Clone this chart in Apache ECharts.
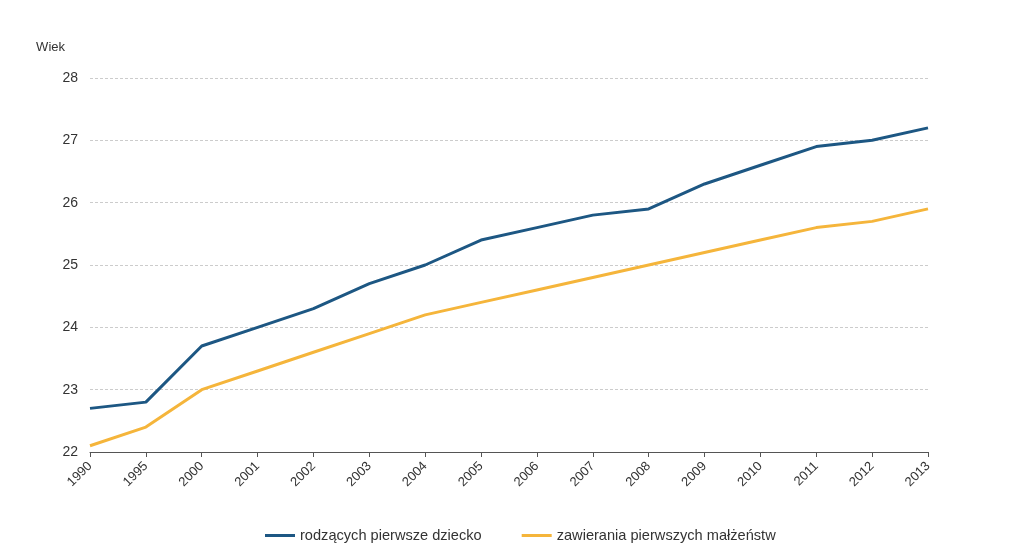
<!DOCTYPE html>
<html>
<head>
<meta charset="utf-8">
<script src="https://cdn.jsdelivr.net/npm/echarts@6/dist/echarts.min.js"></script>
<style>
  html, body { margin: 0; padding: 0; background: #ffffff; }
  #chart { width: 1016px; height: 552px; }
</style>
</head>
<body>
<div id="chart"></div>
<script>
// Mediana wieku: kobiety rodzące pierwsze dziecko oraz zawierające pierwsze małżeństwo
const years = ['1990','1995','2000','2001','2002','2003','2004','2005','2006','2007','2008','2009','2010','2011','2012','2013'];
const firstChild = [22.7, 22.8, 23.7, 24.0, 24.3, 24.7, 25.0, 25.4, 25.6, 25.8, 25.9, 26.3, 26.6, 26.9, 27.0, 27.2];
const firstMarriage = [22.1, 22.4, 23.0, 23.3, 23.6, 23.9, 24.2, 24.4, 24.6, 24.8, 25.0, 25.2, 25.4, 25.6, 25.7, 25.9];
const seriesNames = ['rodzących pierwsze dziecko', 'zawierania pierwszych małżeństw'];
const seriesColors = ['#1d5783', '#f5b53b'];

const chart = echarts.init(document.getElementById('chart'), null, { renderer: 'canvas' });
const font = 'Liberation Sans, Arial, sans-serif';

chart.setOption({
  animation: false,
  backgroundColor: '#ffffff',
  textStyle: { fontFamily: font },
  grid: { left: 90, right: 88, top: 78, bottom: 100, containLabel: false },
  legend: {
    bottom: 4,
    left: 260,
    itemWidth: 30,
    itemHeight: 3,
    itemGap: 40,
    icon: 'rect',
    textStyle: { fontFamily: font, fontSize: 14.6, color: '#333333' },
    data: seriesNames
  },
  xAxis: {
    type: 'category',
    data: years,
    boundaryGap: false,
    axisLine: { lineStyle: { color: '#555555', width: 1 } },
    axisTick: { alignWithLabel: true, length: 5, lineStyle: { color: '#555555' } },
    axisLabel: { rotate: 45, color: '#333333', fontSize: 13, margin: 12, fontFamily: font }
  },
  yAxis: {
    type: 'value',
    min: 22,
    max: 28,
    interval: 1,
    name: 'Wiek',
    nameLocation: 'end',
    nameGap: 24,
    nameTextStyle: { color: '#333333', fontSize: 13, align: 'right', padding: [0, 25, 0, 0], fontFamily: font },
    axisLine: { show: false },
    axisTick: { show: false },
    axisLabel: { color: '#333333', fontSize: 14, margin: 12, fontFamily: font },
    splitLine: { lineStyle: { color: '#cccccc', type: [3, 2], width: 1 } }
  },
  series: [
    {
      name: seriesNames[0],
      type: 'line',
      data: firstChild,
      symbol: 'none',
      lineStyle: { color: seriesColors[0], width: 3 },
      itemStyle: { color: seriesColors[0] }
    },
    {
      name: seriesNames[1],
      type: 'line',
      data: firstMarriage,
      symbol: 'none',
      lineStyle: { color: seriesColors[1], width: 3 },
      itemStyle: { color: seriesColors[1] }
    }
  ]
});
</script>
</body>
</html>
